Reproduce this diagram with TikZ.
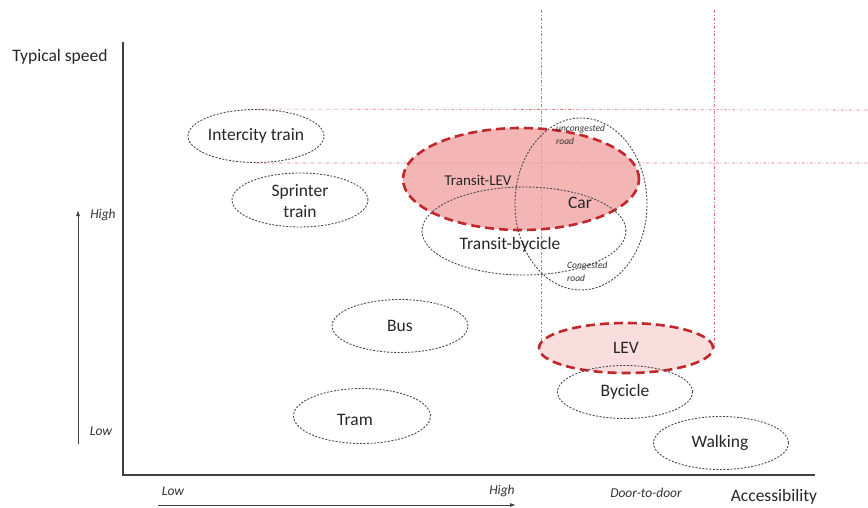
\documentclass[tikz,border=0pt]{standalone}
\usepackage{fontspec}
\setmainfont{Carlito}
\usetikzlibrary{shapes.geometric,arrows.meta}

\definecolor{axisgray}{HTML}{404040}
\definecolor{ringgray}{HTML}{4A4A4A}
\definecolor{levred}{HTML}{C0282D}
\definecolor{levfill}{HTML}{F09C9C}
\definecolor{levfilllight}{HTML}{F8D2D2}
\definecolor{guidered}{HTML}{E07575}

\tikzset{
  mode/.style={ellipse, draw=ringgray, line width=0.9pt,
    dash pattern=on 2pt off 1.5pt, inner sep=0pt},
  levmode/.style={ellipse, draw=levred, line width=2.6pt,
    dash pattern=on 9pt off 5pt, inner sep=0pt, fill opacity=0.75},
  lbl/.style={font=\fontsize{17.5}{21}\selectfont, text=black!85, inner sep=0pt, align=center},
  axlbl/.style={font=\fontsize{13.5}{16}\selectfont\itshape, text=black!80, inner sep=0pt},
  roadlbl/.style={font=\fontsize{9.5}{13}\selectfont\itshape, text=black!80,
    inner sep=0pt, align=left, anchor=west},
  guide/.style={draw=guidered, line width=0.6pt,
    dash pattern=on 3pt off 2pt on 0.8pt off 2pt},
  axisline/.style={draw=axisgray, line width=1.8pt},
  scalearrow/.style={draw=axisgray, line width=0.9pt, -{Latex[length=6pt,width=4pt]}},
}

\begin{document}
\begin{tikzpicture}[x=1pt,y=-1pt]
\useasboundingbox (0,0) rectangle (868,507);

% mode ellipses (geometry only)
\node[mode, minimum width=136pt, minimum height=53pt] (ic) at (256,136) {};
\node[mode, minimum width=136pt, minimum height=54pt] (sp) at (300,200) {};
\node[mode, minimum width=136pt, minimum height=53pt] (bus) at (400,326) {};
\node[mode, minimum width=137pt, minimum height=55pt] (tram) at (362,416) {};
\node[mode, minimum width=135pt, minimum height=53pt] (walk) at (721,443) {};

% guide lines
\coordinate (gt1) at (541,10);
\coordinate (gt2) at (714,10);
\coordinate (gr1) at (868,110);
\coordinate (gr2) at (868,163);
\coordinate (lev) at (626,348);
\draw[guide] (gt1) -- (gt1 |- lev);
\draw[guide] (gt2) -- (gt2 |- lev);
\draw[guide] (ic.north) -- (gr1);
\draw[guide] (ic.south) -- (gr2);

% low-emission vehicle modes
\node[levmode, fill=levfill, minimum width=236pt, minimum height=102pt] (tlev) at (521,179) {};
\node[levmode, fill=levfilllight, minimum width=174pt, minimum height=50pt] (levn) at (lev) {};

% overlapping modes
\node[mode, minimum width=204pt, minimum height=88pt] (tbc) at (524,231) {};
\node[mode, minimum width=132pt, minimum height=172pt] (car) at (581,204) {};
\node[mode, minimum width=135pt, minimum height=53pt] (bike) at (625,392) {};

% mode labels
\node[lbl] (icl) at (ic) {Intercity train};
\node[lbl] (spl) at (300,201) {Sprinter\\train};
\node[lbl] (busl) at (bus) {Bus};
\node[lbl] (traml) at (355,420) {Tram};
\node[lbl] (walkl) at (720,443) {Walking};
\node[lbl] (bikel) at (bike) {Bycicle};
\node[lbl] (levl) at (levn) {LEV};
\node[lbl, font=\fontsize{15}{18}\selectfont] (tlevl) at (478,180) {Transit-LEV};
\node[lbl] (carl) at (580,203) {Car};
\node[lbl] (tbcl) at (510,245) {Transit-bycicle};
\node[roadlbl] (unc) at (556,135) {uncongested\\road};
\node[roadlbl] (cong) at (567,272) {Congested\\road};

% axes
\coordinate (ytop) at (123,42);
\coordinate (orig) at (123,475);
\coordinate (xend) at (815,475);
\draw[axisline] (ytop) -- (orig) -- (xend);
\node[lbl] (ytitle) at (60,57) {Typical speed};
\node[lbl] (xtitle) at (774,497) {Accessibility};

% speed scale
\coordinate (sb) at (78,444);
\coordinate (st) at (78,210);
\draw[scalearrow] (sb) -- (st);
\node[axlbl] (shigh) at (103,215) {High};
\node[axlbl] (slow) at (101,431) {Low};

% accessibility scale
\coordinate (ab) at (158,505);
\coordinate (at2) at (516,505);
\draw[scalearrow] (ab) -- (at2);
\node[axlbl] (alow) at (173,491) {Low};
\node[axlbl] (ahigh) at (502,491) {High};
\node[axlbl] (door) at (646,493) {Door-to-door};
\end{tikzpicture}
\end{document}
